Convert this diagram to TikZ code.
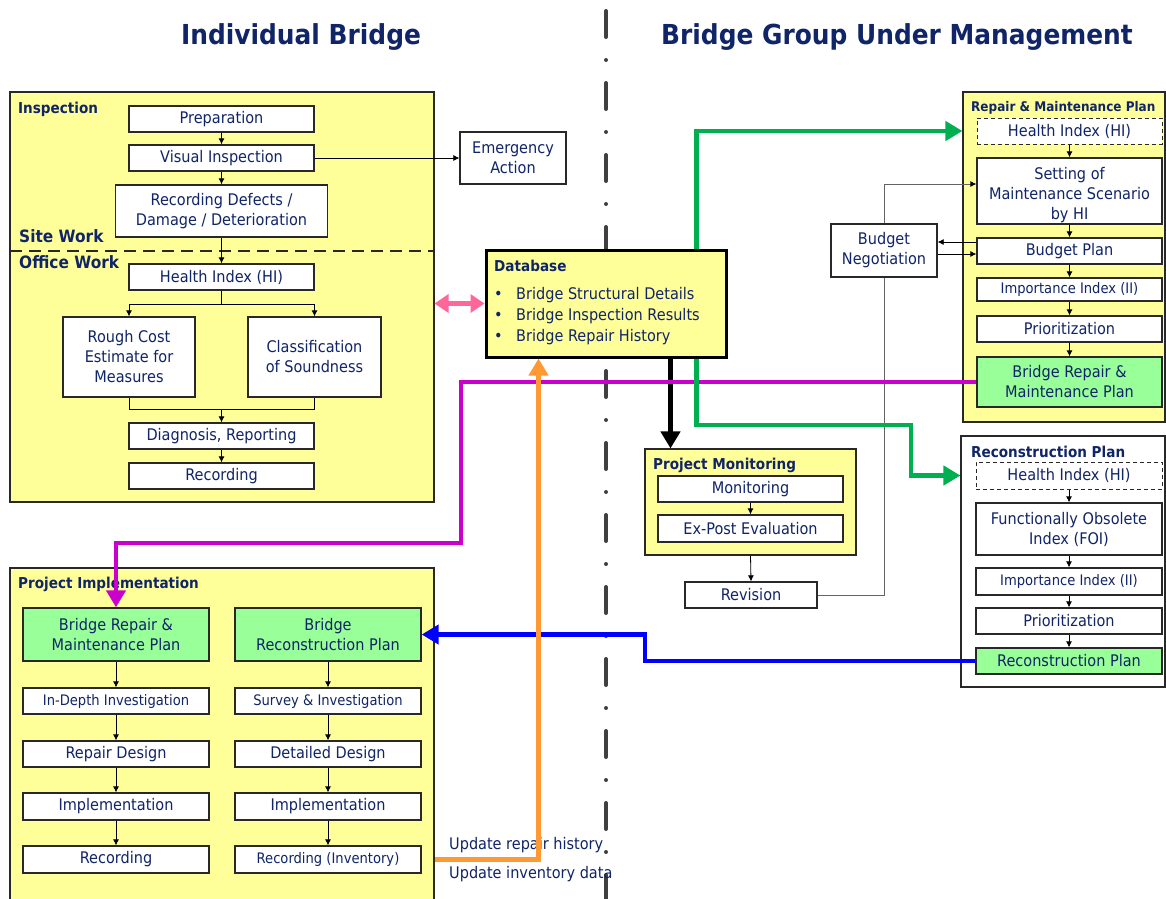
\documentclass[tikz,border=0pt]{standalone}
\usepackage{fontspec}
\setmainfont{DejaVu Sans}[FakeStretch=0.905]
\usetikzlibrary{arrows.meta,calc}

\definecolor{navy}{RGB}{16,36,104}
\definecolor{ylw}{RGB}{255,255,153}
\definecolor{pgreen}{RGB}{153,255,153}
\definecolor{lgreen}{RGB}{0,176,80}
\definecolor{mag}{RGB}{204,0,204}
\definecolor{org}{RGB}{255,153,51}
\definecolor{pnk}{RGB}{255,102,153}
\definecolor{divgray}{RGB}{64,64,64}
\definecolor{edge}{RGB}{40,40,40}
\definecolor{gline}{RGB}{100,100,100}

\newcommand\szA{\fontsize{16}{20}\selectfont}
\newcommand\szB{\fontsize{14.5}{17}\selectfont}
\newcommand\szH{\fontsize{15}{18}\selectfont\bfseries}
\newcommand\szS{\fontsize{17}{20}\selectfont\bfseries}
\newcommand\szT{\fontsize{27.5}{32}\selectfont\bfseries}

\tikzset{
  cr/.style args={#1/#2/#3/#4}{minimum width={#3-#1}, minimum height={#4-#2},
    at={({(#1+#3)/2},{(#2+#4)/2})}},
  bx/.style={draw=edge, line width=1.3pt, fill=white, inner sep=0pt, align=center, text=navy, font=\szA},
  sbx/.style={bx, font=\szB},
  gbx/.style={bx, fill=pgreen},
  dbx/.style={bx, dash pattern=on 4pt off 3pt, line width=1pt},
  panel/.style={draw=edge, line width=1.1pt, fill=ylw, inner sep=0pt},
  ttl/.style={anchor=base west, inner sep=0pt, text=navy, font=\szH},
  txt/.style={anchor=base west, inner sep=0pt, text=navy, font=\szA},
  flow/.style={draw=black, line width=0.8pt, -{Latex[length=6pt,width=6pt,black]}},
  thk/.style={line width=4.5pt, -{Triangle[length=17pt,width=19pt]}},
}

\begin{document}
\begin{tikzpicture}[x=1pt,y=-1pt]
\useasboundingbox (0,0) rectangle (1166,898);
\fill[white] (0,0) rectangle (1166,898);

% dash-dot divider between the two halves
\draw[divgray, line width=4pt, line cap=round, dash pattern=on 26pt off 23pt on 0pt off 23pt] (606,11) -- (606,905);

% headings
\node[text=navy, font=\szT] (t1) at (301,37) {Individual Bridge};
\node[text=navy, font=\szT] (t2) at (897,37) {Bridge Group Under Management};

% ---------- Inspection ----------
\node[panel, cr=10/92/434/502] (insp) {};
\node[ttl] (inspT) at (18,113) {Inspection};
\draw[edge, line width=1.5pt, dash pattern=on 12pt off 7pt] (10,251) -- (434,251);
\node[ttl, font=\szS] (site) at (19,242) {Site Work};
\node[ttl, font=\szS] (office) at (19,268) {Office Work};

\node[bx, cr=129/106/314/132] (prep) {Preparation};
\node[bx, cr=129/145/314/171] (vis) {Visual Inspection};
\node[bx, cr=115.5/185/327.5/237] (rec) {Recording Defects /\\Damage / Deterioration};
\node[bx, cr=129/264/314/290] (hi) {Health Index (HI)};
\node[bx, cr=63/317/195/397] (rough) {Rough Cost\\Estimate for\\Measures};
\node[bx, cr=248/317/381/397] (class) {Classification\\of Soundness};
\node[bx, cr=129/423/314/449] (diag) {Diagnosis, Reporting};
\node[bx, cr=129/463/314/489] (recd) {Recording};

\node[bx, cr=460/132/566/184] (emerg) {Emergency\\Action};

% ---------- Database ----------
\node[draw=black, line width=3pt, fill=ylw, inner sep=0pt, cr=486/250/726/357] (db) {};
\node[ttl] (dbT) at (494,271) {Database};
\node[txt] (db1) at (494,299) {\makebox[22pt][l]{•}Bridge Structural Details};
\node[txt] (db2) at (494,320) {\makebox[22pt][l]{•}Bridge Inspection Results};
\node[txt] (db3) at (494,341) {\makebox[22pt][l]{•}Bridge Repair History};

% ---------- Repair & Maintenance Plan ----------
\node[panel, cr=963/92/1165/422] (rmp) {};
\node[ttl, font=\fontsize{13.3}{16}\selectfont\bfseries] (rmpT) at (971,111) {Repair \& Maintenance Plan};
\node[dbx, cr=977/118/1162/144] (rhi) {Health Index (HI)};
\node[bx, cr=977/158/1162/224] (scen) {};
\node[text=navy, font=\szA, align=center, inner sep=0pt] (scenT) at ($(scen.center)+(0,4)$) {Setting of\\Maintenance Scenario\\by HI};
\node[bx, cr=977/238/1162/264] (bplan) {Budget Plan};
\node[sbx, cr=977/278/1162/301] (ii1) {Importance Index (II)};
\node[bx, cr=977/316/1162/342] (prio1) {Prioritization};
\node[gbx, cr=977/357/1162/407] (brmp) {Bridge Repair \&\\Maintenance Plan};

\node[bx, cr=831/224/937/277] (bneg) {Budget\\Negotiation};

% ---------- Project Monitoring ----------
\node[panel, cr=645/449/856/555] (pm) {};
\node[ttl] (pmT) at (653,469) {Project Monitoring};
\node[bx, cr=658/476/843/502] (mon) {Monitoring};
\node[bx, cr=658/515/843/542] (expost) {Ex-Post Evaluation};
\node[bx, cr=685/582/817/608] (rev) {Revision};

% ---------- Reconstruction Plan ----------
\node[panel, fill=white, cr=961/436/1165/687] (rcp) {};
\node[ttl] (rcpT) at (971,457) {Reconstruction Plan};
\node[dbx, cr=976/462/1162/489] (hi2) {Health Index (HI)};
\node[bx, cr=976/503/1162/555] (foi) {Functionally Obsolete\\Index (FOI)};
\node[sbx, cr=976/568/1162/595] (ii2) {Importance Index (II)};
\node[bx, cr=976/608/1162/634] (prio2) {Prioritization};
\node[gbx, cr=976/648/1162/674] (rplan) {Reconstruction Plan};

% ---------- Project Implementation ----------
\node[panel, cr=10/568/434/915] (impl) {};
\node[ttl] (implT) at (18,588) {Project Implementation};
\node[gbx, cr=23/608/209/661] (pbrmp) {Bridge Repair \&\\Maintenance Plan};
\node[gbx, cr=235/608/421/661] (pbrp) {Bridge\\Reconstruction Plan};
\node[sbx, cr=23/688/209/714] (indepth) {In-Depth Investigation};
\node[sbx, cr=235/688/421/714] (sur) {Survey \& Investigation};
\node[bx, cr=23/741/209/767] (rdes) {Repair Design};
\node[bx, cr=235/741/421/767] (ddes) {Detailed Design};
\node[bx, cr=23/793/209/820] (imp1) {Implementation};
\node[bx, cr=235/793/421/820] (imp2) {Implementation};
\node[bx, cr=23/846/209/873] (rec1) {Recording};
\node[sbx, cr=235/846/421/873] (rec2) {Recording (Inventory)};

\node[txt] (up1) at (449,849) {Update repair history};
\node[txt] (up2) at (449,878) {Update inventory data};

% ---------- thin flow arrows ----------
\draw[flow] (prep.south) -- (vis.north);
\draw[flow] (vis.south) -- (rec.north);
\draw[flow] (rec.south) -- (hi.north);
\draw[flow] (hi.south) -- ++(0,14) -| (rough.north);
\draw[flow] (hi.south) -- ++(0,14) -| (class.north);
\coordinate (mj) at (221.5,409);
\draw[black, line width=0.8pt] (rough.south) |- (mj) -| (class.south);
\draw[flow] (mj) -- (diag.north);
\draw[flow] (diag.south) -- (recd.north);
\draw[flow, line width=0.7pt] (vis.east) -- (emerg.west);

\draw[flow] (rhi.south) -- (scen.north);
\draw[flow] (scen.south) -- (bplan.north);
\draw[flow] (bplan.south) -- (ii1.north);
\draw[flow] (ii1.south) -- (prio1.north);
\draw[flow] (prio1.south) -- (brmp.north);

\coordinate (sc1) at ($(scen.west)+(0,-7)$);
\draw[flow, draw=gline] (bneg.north) |- (sc1);
\coordinate (bp1) at ($(bplan.west)+(0,-9)$);
\coordinate (bp2) at ($(bplan.west)+(0,3)$);
\draw[flow] (bp1) -- (bp1 -| bneg.east);
\draw[flow] (bp2 -| bneg.east) -- (bp2);
\draw[gline, line width=1pt] (rev.east) -| (bneg.south);

\draw[flow] (mon.south) -- (expost.north);
\draw[flow] (pm.south) -- (rev.north);

\draw[flow] (hi2.south) -- (foi.north);
\draw[flow] (foi.south) -- (ii2.north);
\draw[flow] (ii2.south) -- (prio2.north);
\draw[flow] (prio2.south) -- (rplan.north);

\draw[flow] (pbrmp.south) -- (indepth.north);
\draw[flow] (indepth.south) -- (rdes.north);
\draw[flow] (rdes.south) -- (imp1.north);
\draw[flow] (imp1.south) -- (rec1.north);
\draw[flow] (pbrp.south) -- (sur.north);
\draw[flow] (sur.south) -- (ddes.north);
\draw[flow] (ddes.south) -- (imp2.north);
\draw[flow] (imp2.south) -- (rec2.north);

% ---------- thick coloured links ----------
\coordinate (dbk) at ($(db.south west)+(186,0)$);
\draw[thk, black] (dbk) -- (dbk |- pm.north);

\coordinate (mk) at (461,543);
\draw[thk, mag] (brmp.west) -| (mk) -| (pbrmp.north);

\coordinate (dbg1) at ($(db.north west)+(212,0)$);
\draw[thk, lgreen] (dbg1) |- (rhi -| rmp.west);
\coordinate (dbg2) at ($(db.south west)+(212,0)$);
\coordinate (gk) at (911,425);
\draw[thk, lgreen] (dbg2) |- (gk) |- (hi2 -| rcp.west);

\coordinate (bk) at (645,634.5);
\draw[thk, blue] (rplan.west) -| (bk) -- (pbrp.east);

\coordinate (dbo) at ($(db.south west)+(54,0)$);
\draw[thk, org] (rec2.east -| impl.east) -| (dbo);

\draw[line width=4.5pt, pnk, {Triangle[length=14pt,width=18pt]}-{Triangle[length=14pt,width=18pt]}] (db.west -| insp.east) -- (db.west);
\end{tikzpicture}
\end{document}
